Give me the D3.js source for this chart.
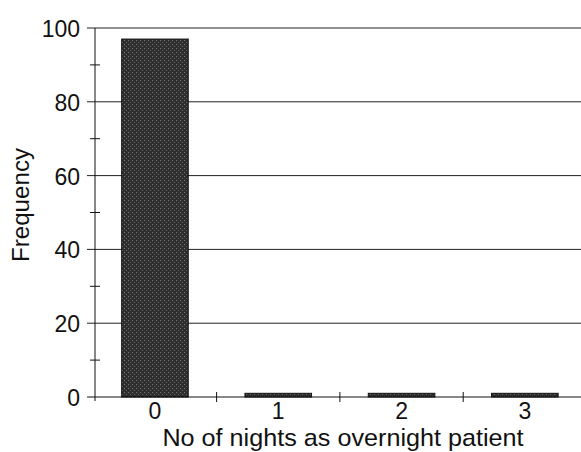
<!DOCTYPE html>
<html><head><meta charset="utf-8">
<script src="https://cdn.jsdelivr.net/npm/d3@7"></script>
<style>body{margin:0;background:#fff}svg{display:block}text{font-family:Arial,"Liberation Sans",sans-serif;fill:#111}</style>
</head><body>
<svg id="c" width="581" height="452"></svg>
<script>
const categories = ["0","1","2","3"];
const frequency = [97, 1, 1, 1];
const yTicks = [0,20,40,60,80,100];
const yMinorTicks = [10,30,50,70,90];
const xTitle = "No of nights as overnight patient";
const yTitle = "Frequency";

const svg = d3.select("#c");
const SX = 1.05;
const x = d3.scaleBand().domain(categories).range([93.3, 586.5]).paddingInner(0.46).paddingOuter(0.23);
const y = d3.scaleLinear().domain([0,100]).range([397, 28]);

// gridlines
svg.append("g").selectAll("line").data(yTicks.filter(d=>d>0)).join("line")
  .attr("x1", 87).attr("x2", 581).attr("y1", d=>y(d)).attr("y2", d=>y(d))
  .attr("stroke", "#222").attr("stroke-width", 1);

// texture pattern
const defs = svg.append("defs");
const pat = defs.append("pattern").attr("id","tex").attr("width",4).attr("height",4).attr("patternUnits","userSpaceOnUse");
pat.append("rect").attr("width",4).attr("height",4).attr("fill","#2e2e2e");
pat.append("rect").attr("x",0).attr("y",0).attr("width",1).attr("height",1).attr("fill","#7a7a7a");
pat.append("rect").attr("x",2).attr("y",2).attr("width",1).attr("height",1).attr("fill","#666");

// bars
svg.append("g").selectAll("rect").data(categories).join("rect")
  .attr("x", d=>x(d)).attr("width", x.bandwidth())
  .attr("y", (d,i)=>y(frequency[i])).attr("height", (d,i)=>y(0)-y(frequency[i]))
  .attr("fill", "url(#tex)").attr("stroke", "#111").attr("stroke-width", 1);

// y axis
svg.append("line").attr("x1",95).attr("x2",95).attr("y1",y(100)).attr("y2",y(0)+4).attr("stroke","#111");
svg.append("g").selectAll("line").data(yMinorTicks).join("line")
  .attr("x1",90).attr("x2",100).attr("y1",d=>y(d)).attr("y2",d=>y(d)).attr("stroke","#111");
svg.append("g").selectAll("text").data(yTicks).join("text")
  .attr("x", 80).attr("y", d=>y(d)+9).attr("text-anchor","end")
  .attr("font-size", 23).text(d=>d);

// x axis
svg.append("line").attr("x1",87).attr("x2",581).attr("y1",y(0)).attr("y2",y(0)).attr("stroke","#111");
const bounds = categories.slice(1).map(c => x(c) - x.step()*x.paddingInner()/2);
svg.append("g").selectAll("line").data(bounds).join("line")
  .attr("x1",d=>d).attr("x2",d=>d).attr("y1",y(0)-5).attr("y2",y(0)+5).attr("stroke","#111");
svg.append("g").selectAll("text").data(categories).join("text")
  .attr("x", d=>x(d)+x.bandwidth()/2).attr("y", 419).attr("text-anchor","middle")
  .attr("font-size", 23).text(d=>d);

svg.append("text").attr("transform", `translate(343,446) scale(${SX},1)`).attr("text-anchor","middle").attr("font-size", 24).text(xTitle);
svg.append("text").attr("transform",`translate(29,205) rotate(-90) scale(${SX},1)`).attr("text-anchor","middle").attr("font-size", 23).text(yTitle);
</script>
</body></html>
